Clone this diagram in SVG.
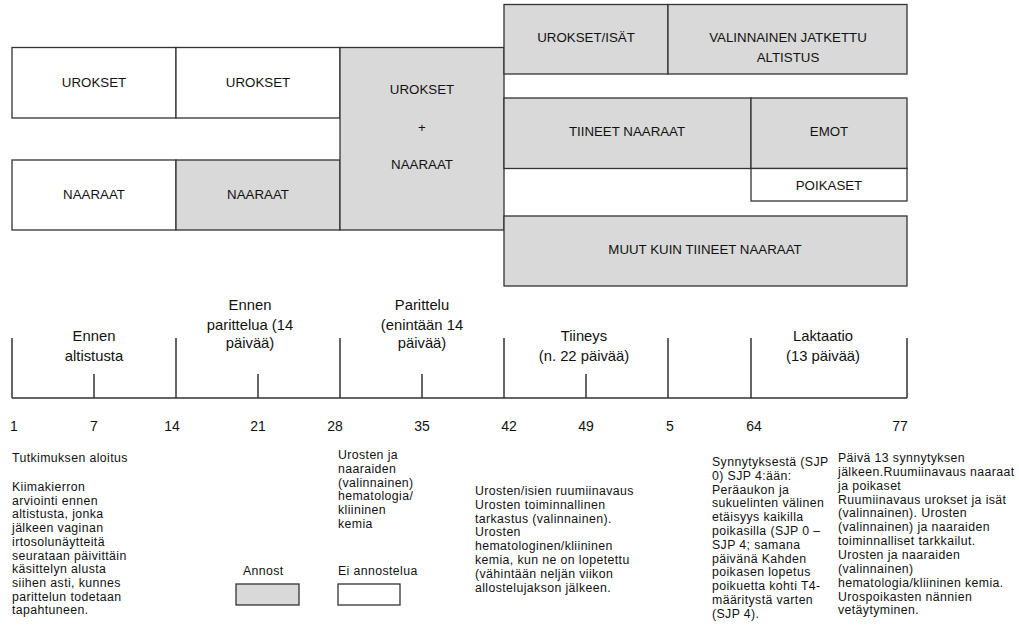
<svg xmlns="http://www.w3.org/2000/svg" width="1019" height="627" viewBox="0 0 1019 627">
<style>
.g{fill:#d9d9d9;stroke:#333;stroke-width:1.3}
.w{fill:#fff;stroke:#333;stroke-width:1.3}
text{font-family:"Liberation Sans",Arial,sans-serif;fill:#111}
.b{font-size:13.3px;text-anchor:middle}
.t{font-size:14.8px;text-anchor:middle}
.n{font-size:14px;text-anchor:middle}
.p{font-size:12.3px;letter-spacing:0.4px}
.ax{stroke:#333;stroke-width:1.5;fill:none}
</style>
<rect width="1019" height="627" fill="#fff"/>
<g id="n-urokset1"><rect class="w" x="12" y="47.5" width="164" height="70.5"/><text class="b" x="94" y="87">UROKSET</text></g>
<g id="n-urokset2"><rect class="w" x="176" y="47.5" width="164" height="70.5"/><text class="b" x="258" y="87">UROKSET</text></g>
<g id="n-naaraat1"><rect class="w" x="12" y="160" width="164" height="70"/><text class="b" x="94" y="199">NAARAAT</text></g>
<g id="n-naaraat2"><rect class="g" x="176" y="160" width="164" height="70"/><text class="b" x="258" y="199">NAARAAT</text></g>
<g id="n-uroksetnaaraat"><rect class="g" x="340" y="47.5" width="164" height="182.5"/><text class="b" x="422" y="94">UROKSET</text><text class="b" x="422" y="132">+</text><text class="b" x="422" y="169">NAARAAT</text></g>
<g id="n-isat"><rect class="g" x="504" y="4.5" width="164" height="69.5"/><text class="b" x="586" y="42">UROKSET/ISÄT</text></g>
<g id="n-jatkettu"><rect class="g" x="668" y="4.5" width="239" height="69.5"/><text class="b" x="788" y="42">VALINNAINEN JATKETTU</text><text class="b" x="788" y="62">ALTISTUS</text></g>
<g id="n-tiineet"><rect class="g" x="504" y="98" width="247" height="70.5"/><text class="b" x="627" y="136">TIINEET NAARAAT</text></g>
<g id="n-emot"><rect class="g" x="751" y="98" width="156" height="70.5"/><text class="b" x="829" y="136">EMOT</text></g>
<g id="n-poikaset"><rect class="w" x="751" y="168.5" width="156" height="32.5"/><text class="b" x="829" y="190">POIKASET</text></g>
<g id="n-muut"><rect class="g" x="504" y="216" width="403" height="70"/><text class="b" x="705" y="254">MUUT KUIN TIINEET NAARAAT</text></g>
<g id="connectors">
<path class="ax" d="M12 398H907M12 338V398M176 338V398M340 338V398M504 338V398M668 338V398M751 338V398M907 338V398M94 374V398M258 374V398M422 374V398M586 374V398"/>
</g>
<g id="phases">
<text class="t" x="94" y="341">Ennen</text><text class="t" x="94" y="361">altistusta</text>
<text class="t" x="250" y="310">Ennen</text><text class="t" x="250" y="330">parittelua (14</text><text class="t" x="250" y="348">päivää)</text>
<text class="t" x="422" y="310">Parittelu</text><text class="t" x="422" y="330">(enintään 14</text><text class="t" x="422" y="348">päivää)</text>
<text class="t" x="584" y="341">Tiineys</text><text class="t" x="584" y="361">(n. 22 päivää)</text>
<text class="t" x="823" y="341">Laktaatio</text><text class="t" x="823" y="361">(13 päivää)</text>
</g>
<g id="days">
<text class="n" x="14" y="431">1</text><text class="n" x="94" y="431">7</text><text class="n" x="172" y="431">14</text><text class="n" x="258" y="431">21</text><text class="n" x="335" y="431">28</text><text class="n" x="422" y="431">35</text><text class="n" x="509" y="431">42</text><text class="n" x="586" y="431">49</text><text class="n" x="670" y="431">5</text><text class="n" x="754" y="431">64</text><text class="n" x="900" y="431">77</text>
</g>
<g id="legend">
<text class="p" x="243" y="575">Annost</text><rect class="g" x="236" y="584" width="63" height="21"/>
<text class="p" x="338" y="575">Ei annostelua</text><rect class="w" x="338" y="584" width="62" height="21"/>
</g>
<g id="notes">
<text class="p"><tspan x="12" y="462">Tutkimuksen aloitus</tspan><tspan x="12" y="491">Kiimakierron</tspan><tspan x="12" dy="13.7">arviointi ennen</tspan><tspan x="12" dy="13.7">altistusta, jonka</tspan><tspan x="12" dy="13.7">jälkeen vaginan</tspan><tspan x="12" dy="13.7">irtosolunäytteitä</tspan><tspan x="12" dy="13.7">seurataan päivittäin</tspan><tspan x="12" dy="13.7">käsittelyn alusta</tspan><tspan x="12" dy="13.7">siihen asti, kunnes</tspan><tspan x="12" dy="13.7">parittelun todetaan</tspan><tspan x="12" dy="13.7">tapahtuneen.</tspan></text>
<text class="p"><tspan x="338" y="459">Urosten ja</tspan><tspan x="338" dy="13.8">naaraiden</tspan><tspan x="338" dy="13.8">(valinnainen)</tspan><tspan x="338" dy="13.8">hematologia/</tspan><tspan x="338" dy="13.8">kliininen</tspan><tspan x="338" dy="13.8">kemia</tspan></text>
<text class="p"><tspan x="475" y="495">Urosten/isien ruumiinavaus</tspan><tspan x="475" dy="13.8">Urosten toiminnallinen</tspan><tspan x="475" dy="13.8">tarkastus (valinnainen).</tspan><tspan x="475" dy="13.8">Urosten</tspan><tspan x="475" dy="13.8">hematologinen/kliininen</tspan><tspan x="475" dy="13.8">kemia, kun ne on lopetettu</tspan><tspan x="475" dy="13.8">(vähintään neljän viikon</tspan><tspan x="475" dy="13.8">allostelujakson jälkeen.</tspan></text>
<text class="p"><tspan x="712" y="466">Synnytyksestä (SJP</tspan><tspan x="712" dy="13.8">0) SJP 4:ään:</tspan><tspan x="712" dy="13.8">Peräaukon ja</tspan><tspan x="712" dy="13.8">sukuelinten välinen</tspan><tspan x="712" dy="13.8">etäisyys kaikilla</tspan><tspan x="712" dy="13.8">poikasilla (SJP 0 –</tspan><tspan x="712" dy="13.8">SJP 4; samana</tspan><tspan x="712" dy="13.8">päivänä Kahden</tspan><tspan x="712" dy="13.8">poikasen lopetus</tspan><tspan x="712" dy="13.8">poikuetta kohti T4-</tspan><tspan x="712" dy="13.8">määritystä varten</tspan><tspan x="712" dy="13.8">(SJP 4).</tspan></text>
<text class="p"><tspan x="838" y="462">Päivä 13 synnytyksen</tspan><tspan x="838" dy="13.85">jälkeen.Ruumiinavaus naaraat</tspan><tspan x="838" dy="13.85">ja poikaset</tspan><tspan x="838" dy="13.85">Ruumiinavaus urokset ja isät</tspan><tspan x="838" dy="13.85">(valinnainen). Urosten</tspan><tspan x="838" dy="13.85">(valinnainen) ja naaraiden</tspan><tspan x="838" dy="13.85">toiminnalliset tarkkailut.</tspan><tspan x="838" dy="13.85">Urosten ja naaraiden</tspan><tspan x="838" dy="13.85">(valinnainen)</tspan><tspan x="838" dy="13.85">hematologia/kliininen kemia.</tspan><tspan x="838" dy="13.85">Urospoikasten nännien</tspan><tspan x="838" dy="13.85">vetäytyminen.</tspan></text>
</g>
</svg>
